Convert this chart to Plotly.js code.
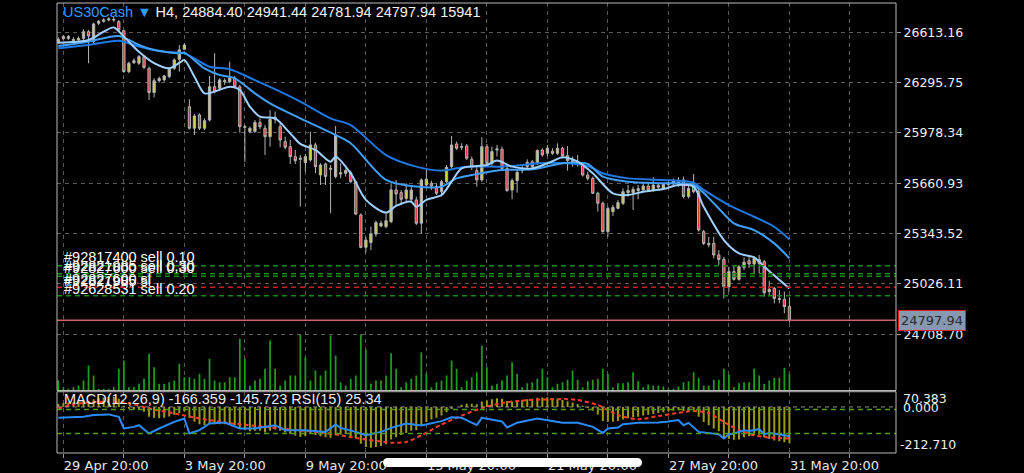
<!DOCTYPE html>
<html><head><meta charset="utf-8">
<script src="https://cdn.plot.ly/plotly-3.0.1.min.js"></script>
<style>html,body{margin:0;padding:0;background:#000;}#chart{width:1024px;height:473px;}</style>
</head><body><div id="chart"></div>
<script>
// ---- data (H4 bars, US30Cash) ----
const openP = [26548,26586,26575,26569,26565,26575,26617,26555,26670,26683,26691,26695,26680,26624,26365,26422,26418,26460,26386,26233,
26308,26313,26334,26386,26443,26506,26144,26008,26092,26008,26060,26270,26260,26302,26302,26323,26270,26018,25987,25987,
26045,26008,25955,26064,26018,25924,25892,25829,25812,25791,25808,25903,25713,25783,25749,25703,25728,25724,25728,25671,
25461,25257,25287,25341,25392,25388,25419,25619,25602,25566,25560,25556,25409,25650,25661,25640,25608,25671,25766,25909,
25888,25896,25812,25741,25682,25892,25787,25871,25875,25755,25619,25678,25741,25766,25797,25787,25871,25850,25863,25850,
25882,25835,25804,25797,25776,25713,25692,25598,25535,25356,25482,25503,25535,25602,25602,25615,25619,25644,25619,25648,
25629,25652,25657,25671,25682,25577,25640,25608,25356,25282,25282,25209,25181,25009,25104,25055,25131,25173,25152,25181,
25167,24978,24999,24933,24929,24884.40];
const highP = [26582,26596,26596,26582,26586,26632,26628,26674,26691,26701,26708,26712,26691,26628,26428,26449,26470,26470,26397,26323,
26334,26344,26386,26449,26533,26544,26191,26098,26102,26071,26338,26481,26323,26323,26428,26338,26281,26029,26018,26060,
26071,26029,26123,26113,26039,25955,25934,25871,25840,25846,25987,25917,25787,25791,25776,26022,25787,25755,25741,25678,
25472,25324,25388,25425,25425,25472,25661,25682,25619,25661,25644,25577,25692,25749,25678,25661,25682,25776,25959,25924,
25913,25909,25829,25766,25951,25909,25892,25903,25892,25766,25692,25749,25776,25812,25808,25875,25882,25903,25882,25913,
25892,25896,25829,25840,25787,25734,25703,25608,25545,25514,25524,25556,25629,25650,25640,25650,25657,25661,25699,25665,
25665,25671,25692,25699,25703,25661,25720,25629,25367,25324,25324,25240,25198,25135,25146,25146,25194,25198,25203,25209,
25177,25047,25009,24988,24978,24941.44];
const lowP = [26540,26561,26565,26550,26554,26565,26418,26540,26659,26674,26683,26680,26617,26359,26355,26413,26407,26380,26186,26203,
26296,26302,26323,26376,26365,26502,26001,25966,25997,25997,26050,26228,26249,26281,26291,26260,25980,25797,25976,25980,
26001,25839,25892,26039,25888,25875,25783,25783,25514,25734,25797,25724,25650,25650,25472,25692,25692,25703,25661,25461,
25251,25223,25240,25324,25383,25377,25409,25524,25524,25535,25545,25398,25341,25640,25619,25587,25577,25661,25755,25871,
25871,25808,25745,25640,25671,25766,25766,25829,25745,25608,25560,25602,25724,25749,25749,25776,25829,25833,25840,25840,
25819,25741,25766,25766,25703,25678,25594,25482,25350,25324,25455,25497,25524,25577,25493,25560,25608,25608,25608,25623,
25619,25640,25644,25640,25566,25566,25598,25356,25272,25257,25188,25146,24935,24978,25047,25047,25114,25125,25093,25093,
24946,24950,24904,24904,24841,24781.94];
const closeP = [26569,26573,26586,26561,26575,26617,26590,26666,26683,26691,26697,26691,26628,26365,26418,26434,26460,26392,26233,26308,
26321,26338,26380,26439,26502,26533,26008,26085,26008,26056,26270,26239,26313,26308,26323,26270,26018,26014,26008,26045,
26018,25955,26064,26077,25934,25888,25829,25804,25819,25829,25903,25766,25776,25703,25755,25966,25720,25741,25671,25467,
25257,25303,25341,25413,25409,25425,25619,25594,25560,25619,25619,25409,25682,25686,25644,25598,25671,25762,25903,25882,
25892,25819,25766,25682,25892,25787,25861,25877,25755,25615,25678,25730,25755,25793,25766,25867,25840,25882,25850,25882,
25835,25804,25791,25783,25713,25692,25598,25535,25356,25503,25509,25539,25608,25615,25623,25627,25644,25619,25650,25636,
25654,25661,25678,25665,25577,25629,25608,25367,25282,25274,25209,25181,25009,25104,25055,25135,25163,25152,25188,25156,
24971,24992,24935,24929,24883,24797.94];
const volume = [9549,3183,1592,3183,4775,9549,23873,14324,1592,1592,1592,3183,20690,28647,3183,3183,6366,11141,35013,22281,
6366,6366,7958,9549,25464,12732,12732,11141,15915,11141,30239,9549,7958,7958,12732,12732,49337,30239,4775,9549,
11141,20690,47745,20690,4775,9549,14324,14324,53474,31830,9549,19098,14324,19098,52520,33422,7958,4775,11141,14324,
53474,38833,6366,9549,9549,14324,35650,20690,3183,7958,11141,14324,36605,15915,3183,7958,9549,14324,28647,20690,
3183,9549,12732,17507,42971,22281,4775,6366,9549,14324,27056,15915,3183,7003,7958,11141,20690,12732,3183,6366,
7958,10186,19098,10186,3183,8912,10186,11141,20690,15915,3183,7003,7003,7958,17507,8912,3183,5729,4775,4775,
3820,1592,1592,3820,7958,8912,17507,12095,4775,4775,10186,10186,20690,15278,3183,7003,7958,7958,20690,14324,
6366,9549,12095,12095,21644,15941];
// moving averages (sampled along the lines)
const maFastIdx = [0,6,9,11,13,16,19,22,24,25,27,29,31,34,36,38,40,43,46,48,51,54,55,58,61,65,67,70,71,73,76,78,80,85,87,90,94,98,100,103,106,110,113,116,120,123,126,128,132,135,138,140,145];
const maFast = [26548,26565,26617,26644,26586,26490,26418,26386,26420,26438,26333,26228,26239,26270,26249,26144,26081,26070,25976,25910,25871,25797,25829,25724,25556,25476,25518,25545,25513,25556,25587,25671,25755,25776,25804,25766,25755,25800,25825,25797,25724,25597,25587,25608,25625,25650,25640,25513,25303,25219,25194,25135,24998];
const maMidIdx = [0,6,12,16,19,24,25,29,32,35,39,42,48,55,58,65,71,76,79,82,88,94,98,101,105,108,113,120,126,130,134,138,142,145];
const maMid = [26527,26554,26590,26533,26501,26480,26485,26386,26344,26323,26228,26165,26070,25965,25913,25682,25640,25640,25692,25713,25745,25749,25775,25791,25783,25703,25671,25661,25650,25535,25408,25366,25282,25188];
const maSlowIdx = [0,6,12,16,21,25,30,34,39,44,48,54,58,65,71,76,81,88,97,101,105,108,113,120,126,128,133,138,142,145];
const maSlow = [26512,26533,26560,26523,26491,26480,26396,26380,26312,26239,26176,26070,26028,25839,25766,25741,25766,25766,25790,25787,25770,25724,25692,25682,25665,25619,25524,25450,25387,25307];
// MACD(12,26,9) main (histogram) per bar
const macdMain = [15,18,20,22,24,30,28,35,40,44,46,46,38,5,-8,-12,-12,-22,-45,-50,
-52,-50,-44,-36,-28,-20,-50,-68,-80,-85,-78,-80,-80,-80,-82,-85,-100,-108,-112,-110,
-110,-118,-110,-104,-110,-118,-125,-132,-138,-135,-125,-130,-135,-140,-142,-130,-128,-125,-135,-145,
-170,-185,-188,-185,-180,-172,-150,-140,-130,-120,-110,-108,-85,-70,-58,-50,-40,-25,-10,0,
10,15,15,12,25,30,35,40,38,28,25,28,32,36,38,42,44,45,40,38,
32,26,20,14,5,-5,-18,-35,-65,-68,-68,-65,-58,-52,-48,-45,-40,-36,-32,-28,
-24,-20,-17,-15,-20,-18,-20,-45,-70,-85,-100,-112,-140,-148,-152,-150,-140,-135,-130,-128,
-140,-148,-155,-158,-163,-166.359];
const signalIdx = [0,3,6,10,14,18,23,28,33,39,46,53,59,66,69,72,76,80,84,88,92,97,101,103,107,111,115,119,123,126,129,132,135,138,141,145];
const signalVal = [-7,12,21,24,17,-7,-30,-53,-72,-87,-104,-120,-143,-165,-162,-131,-81,-40,-5,18,30,35,36,32,9,-38,-57,-42,-27,-19,-29,-69,-107,-131,-141,-145.723];
const rsiIdx = [0,5,7,10,12,13,15,16,18,20,23,25,26,28,30,33,36,39,43,45,49,53,55,56,59,61,64,66,69,72,76,78,80,83,84,88,89,91,95,100,103,106,108,109,111,112,115,117,119,121,123,124,125,127,129,131,132,133,134,136,137,139,140,141,143,145];
const rsiVal = [56,57.7,60.5,61.7,57.7,38.3,41,43.8,30,38.3,49.3,55,30,35.5,46.7,48.3,38.3,38.3,43.8,35.5,35.5,32.7,45,39.3,32.7,27.2,32.7,39.3,46.7,43.3,50.5,57,56,44,56,50,40,48,55,48,47.7,41,31,38.3,40,45.5,47.7,47.7,48.3,50,52.2,43.8,47.7,32.7,30.5,28.8,21.7,28.8,30,35.5,34.3,37.2,28.8,31,28.8,25.34];
// axis labels and levels
const priceTicks = [24708.70,25026.11,25343.52,25660.93,25978.34,26295.75,26613.16];
const timeTickIdx = [1,13,25,37,49,61,73,85,97,109,121,133,145,157];
const timeTickText = ['29 Apr 20:00','','3 May 20:00','','9 May 20:00','','15 May 20:00','','21 May 20:00','','27 May 20:00','','31 May 20:00',''];
const macdScale = [70.383, 0.000, -212.710];
const orderLevels = [25141.1, 25090.7, 25074.3, 25004.9, 24951.9];
const orderKinds = ['tp','tp','tp','sl','tp'];
const orderLabels = ['#92817400 sell 0.10','#92821985 sell 0.30','#92827600 sell 0.30','#92827600 sl','#92821985 sl','#92628531 sell 0.20'];
const orderLabelPrice = [25198, 25139, 25127, 25056, 25045, 24992];
const rsiLevels = [70, 30];

const barIdx = closeP.map((_, i) => i);
const n = closeP.length - 1;

const traces = [
  {type:'candlestick', x:barIdx, open:openP, high:highP, low:lowP, close:closeP, xaxis:'x', yaxis:'y',
   increasing:{line:{color:'#b4b4b4', width:1}, fillcolor:'#cdcd4c'},
   decreasing:{line:{color:'#b4b4b4', width:1}, fillcolor:'#e1373c'},
   whiskerwidth:0, hoverinfo:'skip', showlegend:false},
  {type:'scatter', mode:'lines', x:maSlowIdx, y:maSlow, xaxis:'x', yaxis:'y', line:{color:'#1f78e4', width:2, shape:'spline', smoothing:0.8}, hoverinfo:'skip'},
  {type:'scatter', mode:'lines', x:maMidIdx, y:maMid, xaxis:'x', yaxis:'y', line:{color:'#3f9ffa', width:2, shape:'spline', smoothing:0.8}, hoverinfo:'skip'},
  {type:'scatter', mode:'lines', x:maFastIdx, y:maFast, xaxis:'x', yaxis:'y', line:{color:'#9fd0ff', width:2, shape:'spline', smoothing:0.8}, hoverinfo:'skip'},
  {type:'bar', x:barIdx, y:volume, xaxis:'x', yaxis:'y2', width:0.35, marker:{color:'#1f9c1f', line:{width:0}}, hoverinfo:'skip'},
  {type:'bar', x:barIdx, y:macdMain, xaxis:'x', yaxis:'y3', width:0.4, marker:{color:'#9a9a18', line:{width:0}}, hoverinfo:'skip'},
  {type:'scatter', mode:'lines', x:signalIdx, y:signalVal, xaxis:'x', yaxis:'y3', line:{color:'#ff3b2f', width:2, dash:'4px,3px', shape:'spline', smoothing:0.6}, hoverinfo:'skip'},
  {type:'scatter', mode:'lines', x:rsiIdx, y:rsiVal, xaxis:'x', yaxis:'y4', line:{color:'#2b8cff', width:2}, hoverinfo:'skip'}
];

const axisFont = {family:'DejaVu Sans', size:12.5, color:'#efefef'};
const shapes = [];
// order lines
orderLevels.forEach((lv, k) => {
  shapes.push({type:'line', xref:'paper', x0:0, x1:1, yref:'y', y0:lv, y1:lv,
    line:{color: orderKinds[k]==='sl' ? '#c81e1e' : '#138a13', width:1.5, dash:'5px,4px'}});
});
// bid line
shapes.push({type:'line', xref:'paper', x0:0, x1:1, yref:'y', y0:closeP[n], y1:closeP[n], line:{color:'#c9636d', width:1.5}});
// MACD zero + RSI levels
shapes.push({type:'line', xref:'paper', x0:0, x1:1, yref:'y3', y0:0, y1:0, line:{color:'#8a8a8a', width:1, dash:'4px,4px'}});
rsiLevels.forEach(lv => shapes.push({type:'line', xref:'paper', x0:0, x1:1, yref:'y4', y0:lv, y1:lv, line:{color:'#4f9d14', width:1.5, dash:'5px,4px'}}));
// window frames
shapes.push({type:'rect', xref:'paper', yref:'paper', x0:0, x1:1, y0:0.1389, y1:1, line:{color:'#b9b9b9', width:1}});
shapes.push({type:'rect', xref:'paper', yref:'paper', x0:0, x1:1, y0:0, y1:0.1362, line:{color:'#b9b9b9', width:1}});
// home indicator bar (screen overlay)
shapes.push({type:'rect', xref:'paper', yref:'paper', x0:0.3939, x1:0.6919, y0:-0.0311, y1:-0.0111, fillcolor:'#ffffff', line:{width:0}, layer:'above'});
shapes.push({type:'circle', xref:'paper', yref:'paper', x0:0.3886, x1:0.3993, y0:-0.0311, y1:-0.0111, fillcolor:'#ffffff', line:{width:0}, layer:'above'});
shapes.push({type:'circle', xref:'paper', yref:'paper', x0:0.6866, x1:0.6973, y0:-0.0311, y1:-0.0111, fillcolor:'#ffffff', line:{width:0}, layer:'above'});

const f2 = v => v.toFixed(2);
const annotations = [];
annotations.push({xref:'paper', yref:'paper', x:0.0048, y:0.9789, xanchor:'left', yanchor:'middle', showarrow:false,
  font:{family:'Liberation Sans', size:14.5, color:'#f2f2f2'},
  text:'<span style="color:#2f9bff">US30Cash ▼</span> H4, ' + [openP[n],highP[n],lowP[n],closeP[n]].map(f2).join(' ') + ' ' + volume[n]});
annotations.push({xref:'paper', yref:'paper', x:0.0056, y:0.12, xanchor:'left', yanchor:'middle', showarrow:false,
  font:{family:'Liberation Sans', size:14.5, color:'#ececec'},
  text:'MACD(12,26,9) ' + macdMain[n].toFixed(3) + ' ' + signalVal[signalVal.length-1].toFixed(3) + ' RSI(15) ' + rsiVal[rsiVal.length-1].toFixed(2)});
orderLabels.forEach((t, k) => annotations.push({xref:'paper', yref:'y', x:0.0056, y:orderLabelPrice[k], xanchor:'left', yanchor:'middle', showarrow:false,
  font:{family:'Liberation Sans', size:14.5, color:'#ffffff'}, text:t}));
// MACD window scale labels
const macdLabelY = [0.1216, 0.1016, 0.0178];
const macdLabelX = [1.0056, 1.0056, 1.0027];
macdScale.forEach((v, k) => annotations.push({xref:'paper', yref:'paper', x:macdLabelX[k], y:macdLabelY[k], xanchor:'left', yanchor:'middle', showarrow:false,
  font:axisFont, text:v.toFixed(3)}));
// bid price box
annotations.push({xref:'paper', yref:'y', x:1.0024, y:closeP[n], xanchor:'left', yanchor:'middle', showarrow:false,
  font:{family:'DejaVu Sans', size:13, color:'#2a2a2a'}, text:f2(closeP[n]), bgcolor:'#8799b1', bordercolor:'#dd2020', borderwidth:1, borderpad:2});

const layout = {
  width:1024, height:473, paper_bgcolor:'#000000', plot_bgcolor:'#000000',
  margin:{l:57, r:128, t:3, b:20}, showlegend:false, barmode:'overlay', boxgap:0.35,
  xaxis:{range:[-0.258,166.14], anchor:'y3', tickvals:timeTickIdx, ticktext:timeTickText, ticklabelposition:'outside right',
    ticks:'outside', ticklen:4, tickcolor:'#9a9a9a', tickfont:{family:'DejaVu Sans', size:13, color:'#e8e8e8'},
    showgrid:true, gridcolor:'#5a5a5a', griddash:'4px,4px', gridwidth:1, zeroline:false, showline:false,
    rangeslider:{visible:false}, fixedrange:true},
  yaxis:{domain:[0.1389,1], range:[24354.3,26797.9], side:'right', tickvals:priceTicks, ticktext:priceTicks.map(f2),
    ticks:'outside', ticklen:4, tickcolor:'#9a9a9a', tickfont:axisFont, showgrid:true, gridcolor:'#5a5a5a',
    griddash:'4px,4px', zeroline:false, showline:false, fixedrange:true},
  yaxis2:{overlaying:'y', range:[0,370063], visible:false, fixedrange:true},
  yaxis3:{domain:[0,0.1362], range:[-212.71,70.383], visible:false, showgrid:false, zeroline:false, fixedrange:true},
  yaxis4:{overlaying:'y3', range:[-2.33,99.33], visible:false, fixedrange:true},
  shapes:shapes, annotations:annotations
};
Plotly.newPlot('chart', traces, layout, {displayModeBar:false, staticPlot:true});
</script></body></html>
